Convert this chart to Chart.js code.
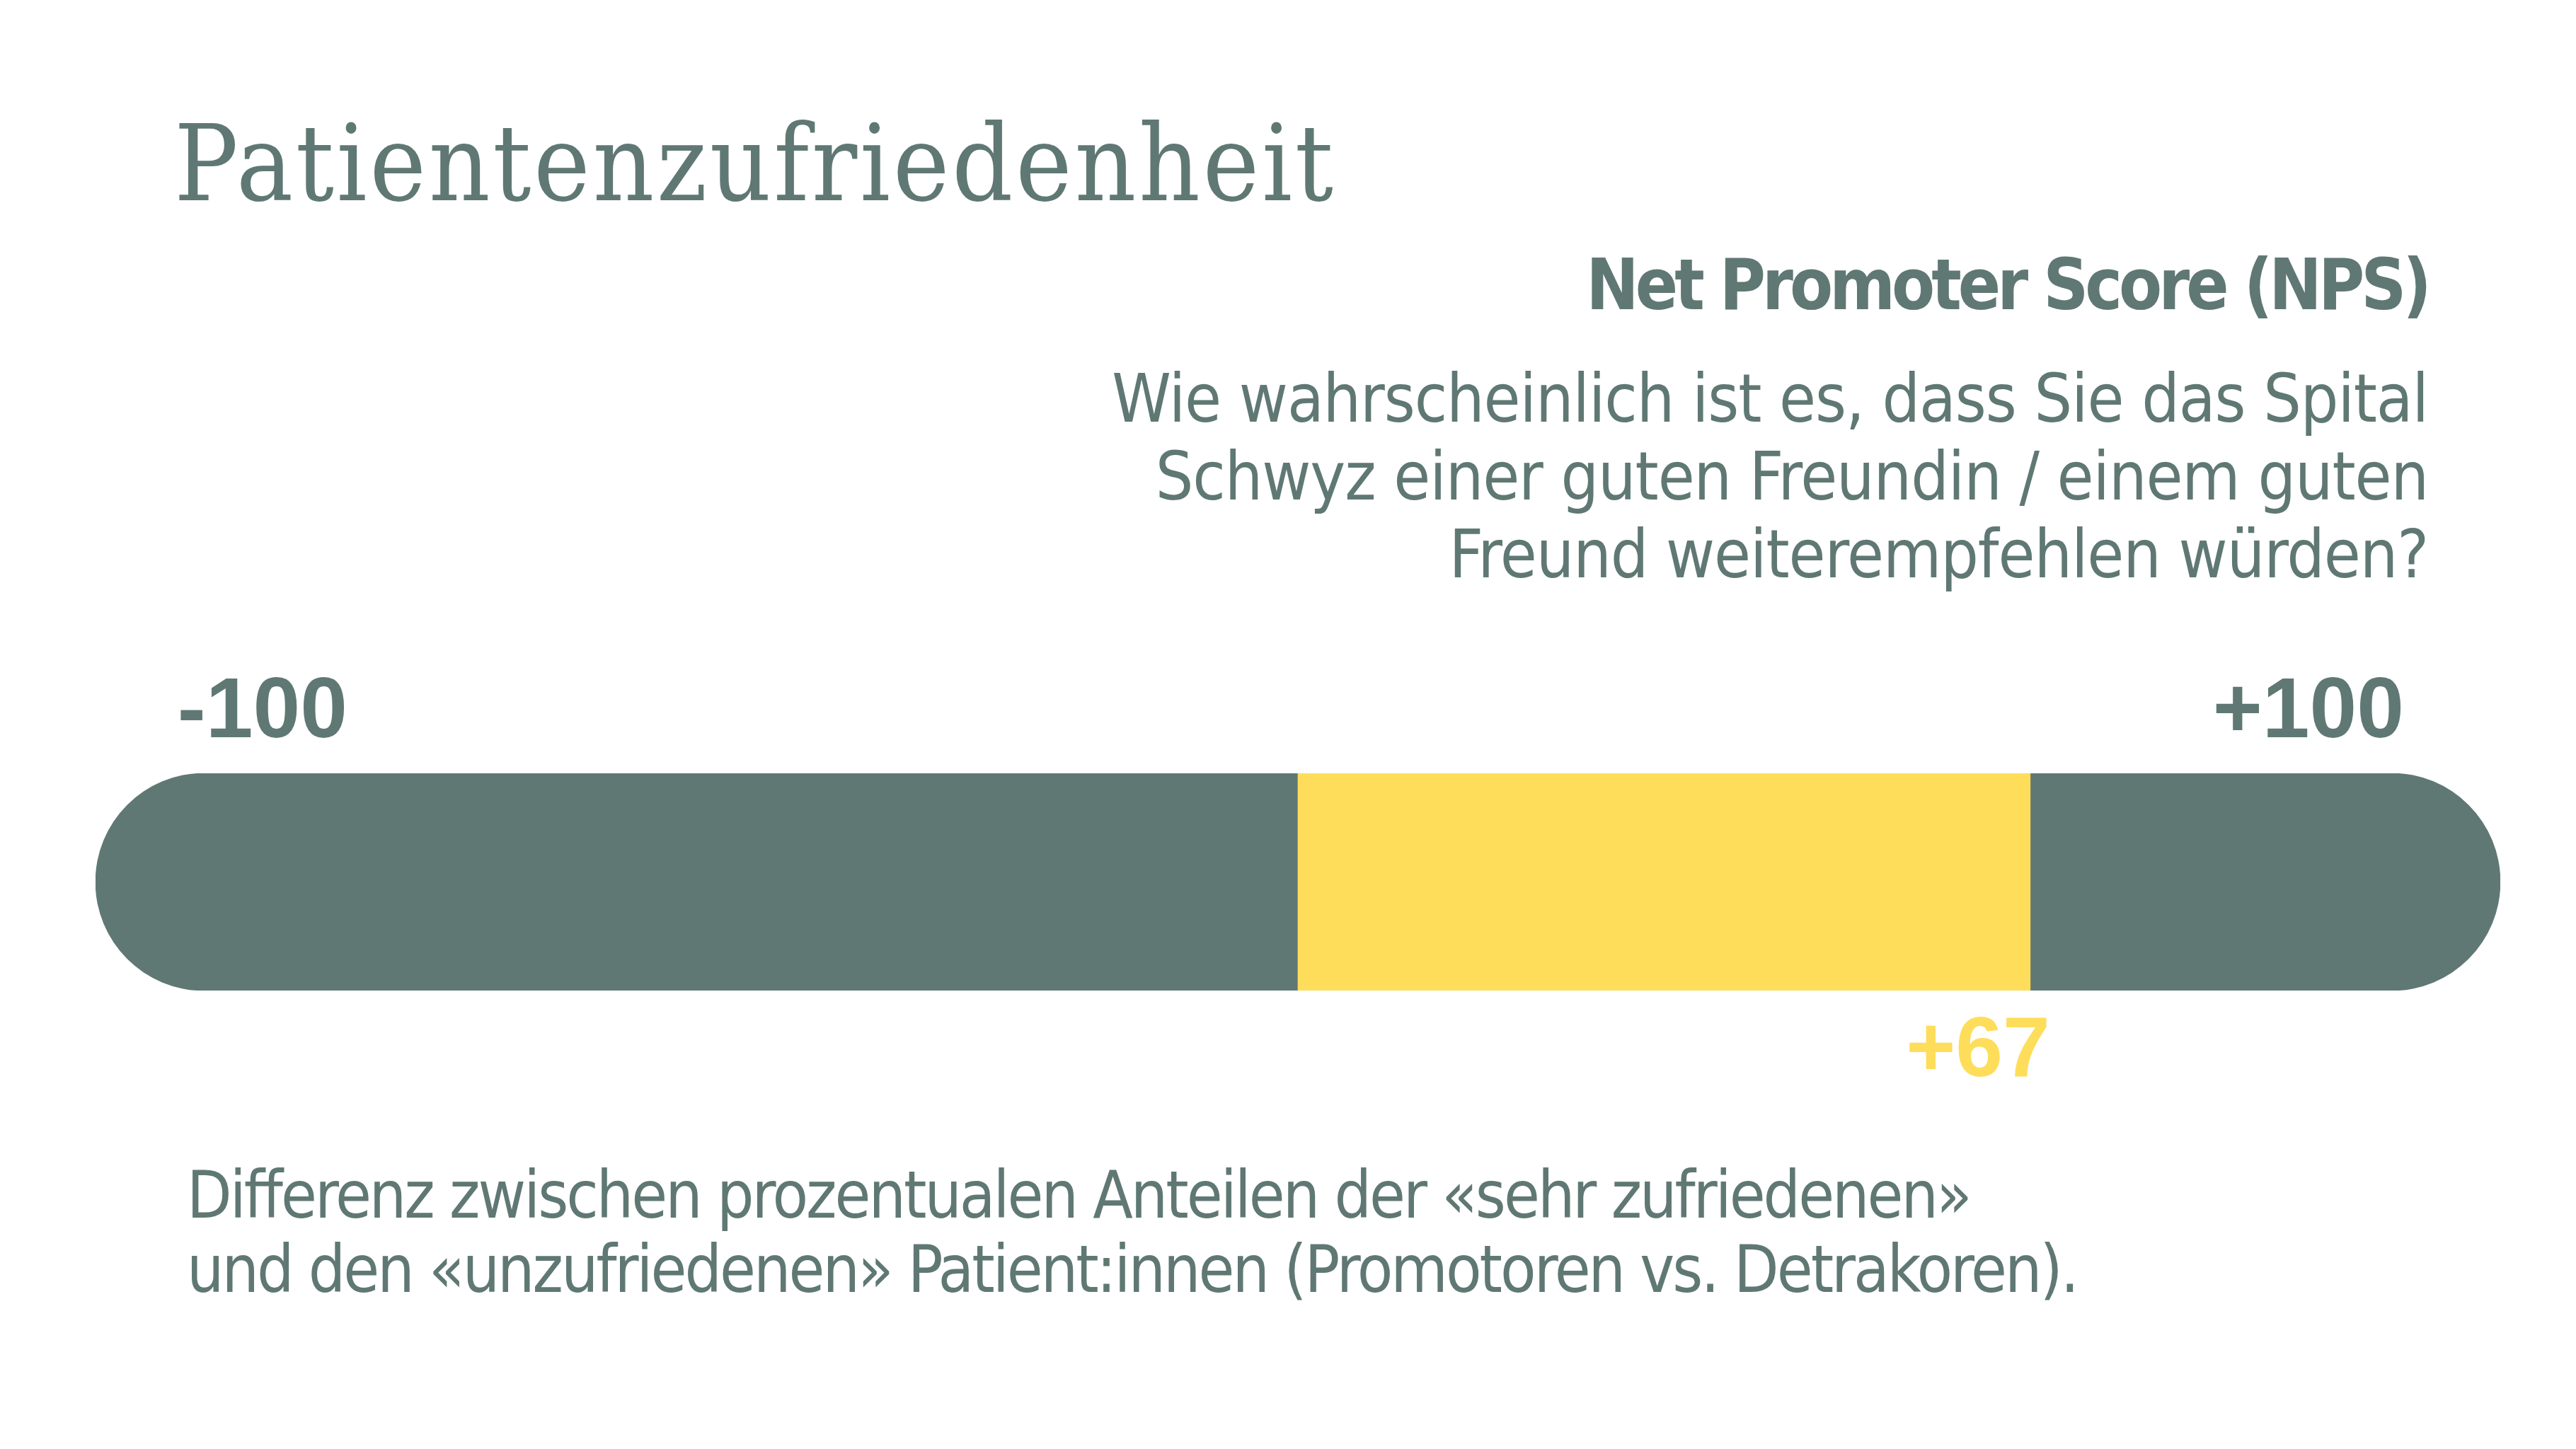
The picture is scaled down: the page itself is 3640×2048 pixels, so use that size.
<!DOCTYPE html>
<html lang="de">
<head>
<meta charset="utf-8">
<title>Patientenzufriedenheit</title>
<script src="https://cdn.jsdelivr.net/npm/chart.js@4.4.1/dist/chart.umd.min.js"></script>
<style>
  html, body { margin: 0; padding: 0; background: #fff; }
  body {
    width: 3640px; height: 2048px; position: relative; overflow: hidden;
    color: #607874;
    font-family: "Liberation Sans Narrow", "DejaVu Sans Condensed", sans-serif;
  }
  .title {
    position: absolute; left: 246px; top: 156px;
    font-family: "DejaVu Serif Condensed", "DejaVu Serif", serif;
    font-size: 150px; line-height: 1; letter-spacing: 3.6px; white-space: nowrap;
  }
  .heading {
    position: absolute; right: 209px; top: 353px;
    font-size: 99px; font-weight: bold; line-height: 1; letter-spacing: -5px; white-space: nowrap;
  }
  .question {
    position: absolute; right: 209px; top: 509px;
    font-size: 94px; line-height: 110px; letter-spacing: -1.1px; text-align: right; white-space: nowrap;
  }
  .note {
    position: absolute; left: 264px; top: 1637px;
    font-size: 92px; line-height: 105px; letter-spacing: -3px; white-space: nowrap;
  }
  .chart-box { position: absolute; left: 0; top: 925px; width: 3640px; height: 675px; }
</style>
</head>
<body>
<div class="title">Patientenzufriedenheit</div>
<div class="heading">Net Promoter Score (NPS)</div>
<div class="question">Wie wahrscheinlich ist es, dass Sie das Spital<br>Schwyz einer guten Freundin / einem guten<br>Freund weiterempfehlen würden?</div>
<div class="note">Differenz zwischen prozentualen Anteilen der «sehr zufriedenen»<br>und den «unzufriedenen» Patient:innen (Promotoren vs. Detrakoren).</div>
<div class="chart-box"><canvas id="nps"></canvas></div>

<script>
// data
const categories = ['NPS'];
const npsScore = [67];
const scaleMin = -100;
const scaleMax = 100;
const tickValues = [-100, 100];

const grey = '#607874';
const yellow = '#FEDD5A';
const capUnits = 10;      // rounded ends sit outside the -100..+100 range
const tickNudge = [-2.5, 1.2]; // end labels sit a little past the scale ends

const signed = (v) => (v > 0 ? '+' + v : String(v));

// writes the score under the end of the yellow bar
const scoreLabel = {
  id: 'scoreLabel',
  afterDatasetsDraw(chart) {
    const bar = chart.getDatasetMeta(0).data[0];
    const ctx = chart.ctx;
    ctx.save();
    ctx.fillStyle = yellow;
    ctx.font = 'bold 120px "Liberation Sans", Arial, sans-serif';
    ctx.textAlign = 'right';
    ctx.textBaseline = 'alphabetic';
    ctx.fillText(signed(npsScore[0]), bar.x + 28, bar.y + bar.height / 2 + 121);
    ctx.restore();
  }
};

new Chart(document.getElementById('nps'), {
  type: 'bar',
  data: {
    labels: categories,
    datasets: [
      {
        label: 'NPS',
        data: npsScore,
        backgroundColor: yellow,
        borderWidth: 0,
        order: 0
      },
      {
        label: 'Skala',
        data: categories.map(() => [scaleMin - capUnits, scaleMax + capUnits]),
        backgroundColor: grey,
        borderWidth: 0,
        borderRadius: 400,
        borderSkipped: false,
        order: 1
      }
    ]
  },
  options: {
    indexAxis: 'y',
    responsive: true,
    maintainAspectRatio: false,
    animation: false,
    devicePixelRatio: 1,
    layout: { padding: { left: 135, right: 107, top: 0, bottom: 200 } },
    datasets: {
      bar: { grouped: false, barPercentage: 1, categoryPercentage: 1 }
    },
    plugins: {
      legend: { display: false },
      tooltip: { enabled: false }
    },
    scales: {
      x: {
        type: 'linear',
        position: 'top',
        min: scaleMin - capUnits,
        max: scaleMax + capUnits,
        grid: { display: false, drawTicks: false },
        border: { display: false },
        afterBuildTicks: (scale) => {
          scale.ticks = tickValues.map((v, i) => ({ value: v + tickNudge[i] }));
        },
        ticks: {
          align: 'inner',
          maxRotation: 0,
          autoSkip: false,
          padding: 24,
          color: grey,
          font: { family: '"Liberation Sans", Arial, sans-serif', size: 120, weight: 'bold', lineHeight: 1 },
          callback: (value, index) => signed(tickValues[index])
        }
      },
      y: { type: 'category', display: false }
    }
  },
  plugins: [scoreLabel]
});
</script>
</body>
</html>
